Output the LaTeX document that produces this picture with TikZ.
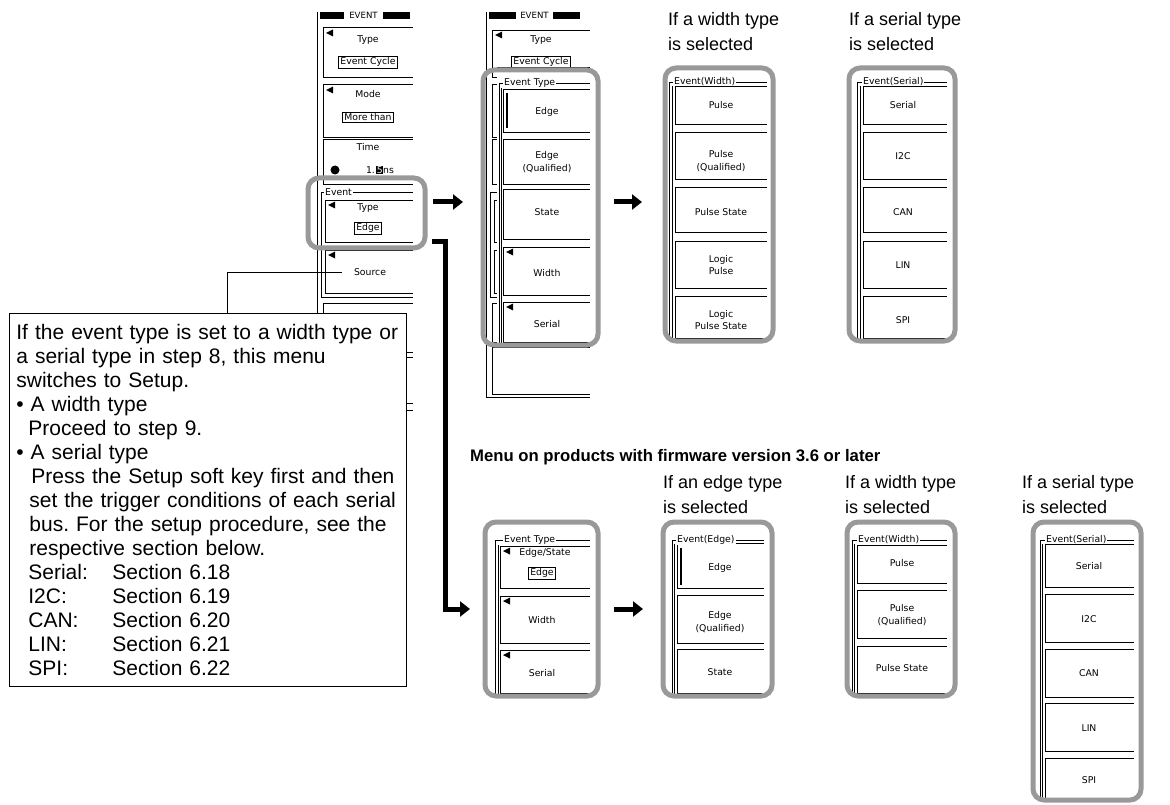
\documentclass[tikz,border=0pt]{standalone}
\usepackage{fontspec}
\setmainfont{Liberation Sans}
\newfontfamily\menufont{DejaVu Sans}
\usepackage{tikz}
\usetikzlibrary{arrows.meta}
\definecolor{hiliteGray}{HTML}{999999}
\frenchspacing

% soft key: top, left and (heavier) bottom edge, right side cut off
\newcommand{\softkey}[4]{%
  \draw[keyline] (#3,#2) -- (#1,#2) -- (#1,#4);
  \draw[keyline, line width=1pt] (#1,#4) -- (#3,#4);}
\newcommand{\keytri}[2]{\fill (#1,#2) -- ++(7,-3.5) -- ++(0,7) -- cycle;}

\begin{document}
\begin{tikzpicture}[x=1pt, y=-1pt,
    keyline/.style={line width=0.6pt},
    menu/.style={font=\menufont\fontsize{9.3}{12.5}\selectfont, inner sep=0pt, align=center},
    valbox/.style={draw, line width=0.6pt, inner xsep=2pt, inner ysep=1.5pt},
    grplabel/.style={menu, anchor=west, fill=white, inner xsep=1pt},
    hilite/.style={draw=hiliteGray, line width=5pt, rounded corners=11pt},
    bigarrow/.style={line width=5pt, line join=miter, -{Triangle[length=10pt, width=15pt]}},
    title/.style={anchor=north west, inner sep=0pt, align=left, font=\fontsize{18}{25}\selectfont},
    note/.style={draw, fill=white, line width=0.8pt, anchor=north west, text width=383pt,
      align=left, inner xsep=7pt, inner ysep=10.7pt, font=\fontsize{21}{24}\selectfont}]
    \useasboundingbox (0,0) rectangle (1170,805);

    % first menu
    \draw[keyline] (317,12) -- (317,410) -- (413,410);
    \fill (320,12) rectangle (344,19);
    \fill (383,12) rectangle (410,19);
    \node[menu, font=\menufont\fontsize{8.6}{10}\selectfont] (a-head) at (363.5,15.5) {EVENT};
    \softkey{323}{27}{413}{78} \keytri{326}{33}
    \node[menu] (a-type) at (368,40) {Type};
    \node[menu, valbox] (a-cycle) at (368,62) {Event Cycle};
    \softkey{323}{84}{413}{138} \keytri{326}{90}
    \node[menu] (a-mode) at (368,94) {Mode};
    \node[menu, valbox] (a-more) at (368,117) {More than};
    \softkey{323}{139}{413}{185}
    \node[menu] (a-time) at (368,147) {Time};
    \fill (335,170) circle (4.5);
    \node[menu] (a-val) at (380,170) {1.\,{\setlength\fboxsep{0.4pt}\colorbox{black}{\textcolor{white}{5}}}ns};
    \draw[keyline] (413,192) -- (321,192) -- (321,297) -- (413,297);
    \node[grplabel] (a-grp) at (324,192) {Event};
    \softkey{325}{200}{413}{243} \keytri{328}{205}
    \node[menu] (a-etype) at (368,208) {Type};
    \node[menu, valbox] (a-edge) at (368,228) {Edge};
    \softkey{325}{250}{413}{293} \keytri{328}{255}
    \node[menu] (a-src) at (370,272) {Source};
    \softkey{323}{303}{413}{352}
    \softkey{323}{357}{413}{403}
    \draw[hilite] (308,178) rectangle (425,248);

    % note on the Source key
    \node[note] (note) at (9,313) {If the event type is set to a width type or\\
      a serial type in step 8, this menu\\
      switches to Setup.\\
      \textbullet\ A width type\\
      \hspace*{12pt}Proceed to step 9.\\
      \textbullet\ A serial type\\
      \hspace*{15pt}Press the Setup soft key first and then\\
      \hspace*{13pt}set the trigger conditions of each serial\\
      \hspace*{13pt}bus. For the setup procedure, see the\\
      \hspace*{13pt}respective section below.\\
      \hspace*{12pt}\makebox[84pt][l]{Serial:}Section 6.18\\
      \hspace*{12pt}\makebox[84pt][l]{I2C:}Section 6.19\\
      \hspace*{12pt}\makebox[84pt][l]{CAN:}Section 6.20\\
      \hspace*{12pt}\makebox[84pt][l]{LIN:}Section 6.21\\
      \hspace*{12pt}\makebox[84pt][l]{SPI:}Section 6.22};
    \draw[line width=0.7pt] ([xshift=-12pt]a-src.west) -| ([xshift=218pt]note.north west);

    % event type list over the menu
    \draw[keyline] (486,12) -- (486,397) -- (590,397);
    \fill (489,12) rectangle (516,19);
    \fill (553,12) rectangle (580,19);
    \node[menu, font=\menufont\fontsize{8.6}{10}\selectfont] (b-head) at (534.5,15.5) {EVENT};
    \softkey{492}{30}{590}{78} \keytri{495}{35}
    \node[menu] (b-type) at (541,40) {Type};
    \node[menu, valbox] (b-cycle) at (541,62) {Event Cycle};
    \softkey{492}{84}{590}{138}
    \softkey{492}{139}{590}{185}
    \draw[keyline] (590,192) -- (490,192) -- (490,297) -- (590,297);
    \softkey{494}{200}{590}{243}
    \softkey{494}{250}{590}{293}
    \softkey{492}{303}{590}{342}
    \softkey{492}{347}{590}{394}
    \fill[white] (497,67) rectangle (592,344);
    \draw[keyline] (497,67) -- (590,67);
    \draw[keyline] (590,83) -- (499,83) -- (499,344);
    \draw[keyline] (501,88) -- (501,344);
    \node[grplabel] (b-grp) at (503,83) {Event Type};
    \softkey{503}{89}{590}{133}
    \draw[line width=1.5pt] (507,93) -- (507,128);
    \node[menu] (b-edge) at (547,112) {Edge};
    \softkey{503}{139}{590}{185}
    \node[menu] (b-edgeq) at (547,162) {Edge\\(Qualified)};
    \softkey{503}{189}{590}{240}
    \node[menu] (b-state) at (547,212) {State};
    \softkey{503}{247}{590}{295} \keytri{506}{252}
    \node[menu] (b-width) at (547,273) {Width};
    \softkey{503}{302}{590}{342} \keytri{506}{307}
    \node[menu] (b-serial) at (547,324) {Serial};
    \draw[hilite] (483,70) rectangle (598,345);

    \coordinate (a-out) at (433,202);
    \coordinate (b-in) at (463,202);
    \draw[bigarrow] (a-out) -- (b-in);
    \coordinate (b-out) at (614,202);
    \coordinate (c-in) at (642,202);
    \draw[bigarrow] (b-out) -- (c-in);

    % width events
    \node[title] (c-title) at (668,12) {If a width type\\is selected};
    \draw[keyline] (767,82) -- (669,82) -- (669,341);
    \draw[keyline] (672,86) -- (672,341);
    \foreach \ya/\yb/\yt/\t [count=\i] in {86/125/105/Pulse, 132/180/161/{Pulse\\(Qualified)},
        187/233/212/Pulse State, 241/288/265/{Logic\\Pulse}, 296/338/320/{Logic\\Pulse State}}{
      \softkey{675}{\ya}{767}{\yb}
      \node[menu] (c-key\i) at (721,\yt) {\t};
    }
    \node[grplabel] (c-grp) at (673,82) {Event(Width)};
    \draw[hilite] (665,68) rectangle (773,341);

    % serial events
    \node[title] (d-title) at (849,12) {If a serial type\\is selected};
    \draw[keyline] (947,82) -- (857,82) -- (857,341);
    \draw[keyline] (860,86) -- (860,341);
    \foreach \ya/\yb/\yt/\t [count=\i] in {86/125/105/Serial, 132/180/156/I2C,
        187/233/212/CAN, 241/288/265/LIN, 296/338/320/SPI}{
      \softkey{863}{\ya}{947}{\yb}
      \node[menu] (d-key\i) at (903,\yt) {\t};
    }
    \node[grplabel] (d-grp) at (862,82) {Event(Serial)};
    \draw[hilite] (849,68) rectangle (955,341);

    % menu on firmware 3.6 or later
    \node[anchor=base west, inner sep=0pt, font=\bfseries\fontsize{16.7}{20}\selectfont] (fw-head)
      at (470,461) {Menu on products with firmware version 3.6 or later};

    \draw[keyline] (590,540) -- (495,540) -- (495,694);
    \draw[keyline] (498,545) -- (498,694);
    \node[grplabel] (e-grp) at (503,540) {Event Type};
    \softkey{500}{546}{590}{588} \keytri{503}{551}
    \node[menu] (e-es) at (545,553) {Edge/State};
    \node[menu, valbox] (e-edge) at (542,573) {Edge};
    \softkey{500}{596}{590}{643} \keytri{503}{601}
    \node[menu] (e-width) at (542,620) {Width};
    \softkey{500}{650}{590}{693} \keytri{503}{655}
    \node[menu] (e-serial) at (542,673) {Serial};
    \draw[hilite] (485,522) rectangle (598,696);

    \coordinate (a-down) at (432,242);
    \coordinate (e-in) at (470,609);
    \draw[bigarrow] (a-down) -- ++(13,0) |- (e-in);
    \coordinate (e-out) at (614,609);
    \coordinate (f-in) at (643,609);
    \draw[bigarrow] (e-out) -- (f-in);

    % edge events
    \node[title] (f-title) at (663,475) {If an edge type\\is selected};
    \draw[keyline] (764,540) -- (672,540) -- (672,694);
    \draw[keyline] (674.5,544) -- (674.5,694);
    \softkey{677}{543}{764}{588}
    \draw[line width=1.5pt] (681,548) -- (681,585);
    \node[menu] (f-edge) at (720,568) {Edge};
    \softkey{677}{595}{764}{643}
    \node[menu] (f-edgeq) at (720,622) {Edge\\(Qualified)};
    \softkey{677}{649}{764}{693}
    \node[menu] (f-state) at (720,672) {State};
    \node[grplabel] (f-grp) at (676,540) {Event(Edge)};
    \draw[hilite] (663,522) rectangle (772,696);

    % width events
    \node[title] (g-title) at (845,475) {If a width type\\is selected};
    \draw[keyline] (947,540) -- (852,540) -- (852,694);
    \draw[keyline] (854.5,544) -- (854.5,694);
    \foreach \ya/\yb/\yt/\t [count=\i] in {545/583/563/Pulse, 590/638/615/{Pulse\\(Qualified)},
        646/693/668/Pulse State}{
      \softkey{857}{\ya}{947}{\yb}
      \node[menu] (g-key\i) at (902,\yt) {\t};
    }
    \node[grplabel] (g-grp) at (857,540) {Event(Width)};
    \draw[hilite] (847,522) rectangle (955,696);

    % serial events
    \node[title] (h-title) at (1022,475) {If a serial type\\is selected};
    \draw[keyline] (1134,540) -- (1040,540) -- (1040,798);
    \draw[keyline] (1042.5,544) -- (1042.5,798);
    \foreach \ya/\yb/\yt/\t [count=\i] in {544/587/566/Serial, 594/642/619/I2C,
        649/697/673/CAN, 703/751/728/LIN, 758/798/780/SPI}{
      \softkey{1045}{\ya}{1134}{\yb}
      \node[menu] (h-key\i) at (1089,\yt) {\t};
    }
    \node[grplabel] (h-grp) at (1045,540) {Event(Serial)};
    \draw[hilite] (1033,522) rectangle (1141,800);
\end{tikzpicture}
\end{document}
